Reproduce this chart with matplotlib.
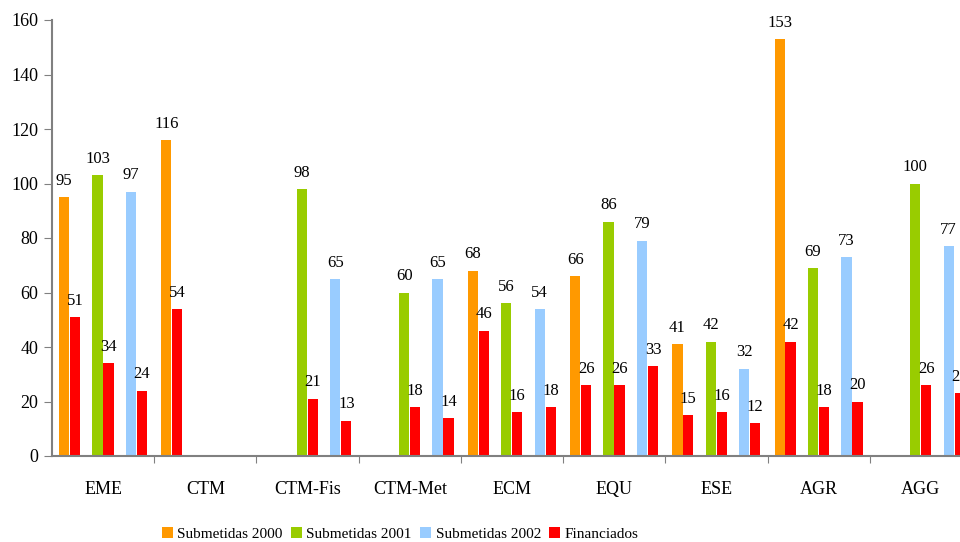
import matplotlib.pyplot as plt
import numpy as np

# categorias e valores
categorias = ['EME', 'CTM', 'CTM-Fis', 'CTM-Met', 'ECM', 'EQU', 'ESE', 'AGR', 'AGG']
sub2000 = [95, 116, None, None, 68, 66, 41, 153, None]
fin2000 = [51, 54, None, None, 46, 26, 15, 42, None]
sub2001 = [103, None, 98, 60, 56, 86, 42, 69, 100]
fin2001 = [34, None, 21, 18, 16, 26, 16, 18, 26]
sub2002 = [97, None, 65, 65, 54, 79, 32, 73, 77]
fin2002 = [24, None, 13, 14, 18, 33, 12, 20, 23]

cores = ['#FF9900', '#99CC00', '#99CCFF']
vermelho = '#FF0000'
nomes = ['Submetidas 2000', 'Submetidas 2001', 'Submetidas 2002']

plt.rcParams['font.family'] = ['Liberation Serif', 'DejaVu Serif']

fig = plt.figure(figsize=(9.6, 5.42), dpi=100)
ax = fig.add_axes([52 / 960, 86 / 542, 920 / 960, 436 / 542])

x = np.arange(len(categorias))
largura = 0.1
pares = [(sub2000, fin2000), (sub2001, fin2001), (sub2002, fin2002)]
handles = []
for k, (sub, fin) in enumerate(pares):
    xs = x + 0.118 + k * 0.327
    for i in range(len(categorias)):
        if sub[i] is None:
            continue
        b = ax.bar(xs[i], sub[i], largura, color=cores[k])
        ax.annotate(str(sub[i]), (xs[i], sub[i]), xytext=(0, 6), textcoords='offset points',
                    ha='center', va='bottom', fontsize=12)
        r = ax.bar(xs[i] + 0.107, fin[i], largura, color=vermelho)
        ax.annotate(str(fin[i]), (xs[i] + 0.107, fin[i]), xytext=(0, 6), textcoords='offset points',
                    ha='center', va='bottom', fontsize=12)
    handles.append(b)
handles.append(r)

ax.set_xlim(0, 9)
ax.set_ylim(0, 160)
ax.set_yticks(range(0, 161, 20))
ax.set_xticks(np.arange(1, 9), minor=False)
ax.set_xticklabels([])
ax.set_xticks(x + 0.5, minor=True)
ax.set_xticklabels(categorias, minor=True)
ax.tick_params(axis='x', which='minor', length=0, pad=18, labelsize=13)
ax.tick_params(axis='x', which='major', length=5, color='#808080', direction='out')
ax.tick_params(axis='y', length=6, color='#808080', labelsize=13, pad=4)
for s in ['top', 'right']:
    ax.spines[s].set_visible(False)
for s in ['left', 'bottom']:
    ax.spines[s].set_color('#808080')
    ax.spines[s].set_linewidth(1.5)

fig.legend(handles, nomes + ['Financiados'], loc='center', bbox_to_anchor=(0.417, 8 / 542),
           ncol=4, frameon=False, fontsize=11, handlelength=0.7, handleheight=0.7,
           handletextpad=0.3, columnspacing=0.55)

plt.savefig('out.png', dpi=100)
